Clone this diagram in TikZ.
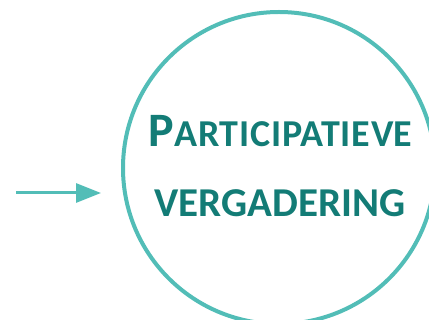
\documentclass[tikz,border=0pt]{standalone}
\usepackage{fontspec}
\setmainfont{Carlito}
\usetikzlibrary{arrows.meta}
\definecolor{ringc}{HTML}{52BDB7}
\definecolor{textc}{HTML}{137C76}
\tikzset{
  ring/.style={draw=ringc, line width=4pt},
  label/.style={text=textc, font=\bfseries, inner sep=0pt, anchor=base},
  conn/.style={draw=ringc, line width=3pt, -{Triangle[length=25pt,width=19pt]}}
}
\begin{document}
\begin{tikzpicture}[x=1pt,y=-1pt]
\useasboundingbox (0,0) rectangle (429,320);
\node[ring, circle, minimum size=312pt, inner sep=0pt] (c) at (279,168) {};
\node[label] (l1) at (280.5,147) {\fontsize{48}{50}\selectfont P\addfontfeatures{LetterSpace=2}\fontsize{38}{40}\selectfont ARTICIPATIEV\addfontfeatures{LetterSpace=0}E};
\node[label] (l2) at (280,217) {\fontsize{41}{44}\selectfont VERGADERING};
\coordinate (s) at (16,193);
\coordinate (e) at (101,193);
\draw[conn] (s) -- (e);
\end{tikzpicture}
\end{document}
